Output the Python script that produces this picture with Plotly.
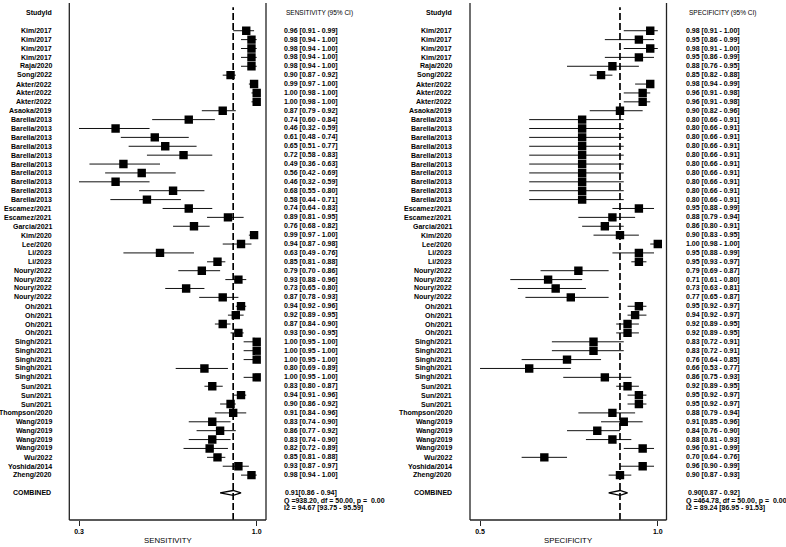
import plotly.graph_objects as go

# ---------------- data ----------------
studies = ["Kim/2017", "Kim/2017", "Kim/2017", "Kim/2017", "Raja/2020", "Song/2022",
           "Akter/2022", "Akter/2022", "Akter/2022", "Asaoka/2019",
           "Barella/2013", "Barella/2013", "Barella/2013", "Barella/2013", "Barella/2013",
           "Barella/2013", "Barella/2013", "Barella/2013", "Barella/2013", "Barella/2013",
           "Escamez/2021", "Escamez/2021", "Garcia/2021", "Kim/2020", "Lee/2020",
           "Li/2023", "Li/2023", "Noury/2022", "Noury/2022", "Noury/2022", "Noury/2022",
           "Oh/2021", "Oh/2021", "Oh/2021", "Oh/2021",
           "Singh/2021", "Singh/2021", "Singh/2021", "Singh/2021", "Singh/2021",
           "Sun/2021", "Sun/2021", "Sun/2021", "Thompson/2020",
           "Wang/2019", "Wang/2019", "Wang/2019", "Wang/2019",
           "Wu/2022", "Yoshida/2014", "Zheng/2020"]

sens = [0.96, 0.98, 0.98, 0.98, 0.98, 0.90, 0.99, 1.00, 1.00, 0.87,
        0.74, 0.46, 0.61, 0.65, 0.72, 0.49, 0.56, 0.46, 0.68, 0.58,
        0.74, 0.89, 0.76, 0.99, 0.94, 0.63, 0.85, 0.79, 0.93, 0.73, 0.87,
        0.94, 0.92, 0.87, 0.93, 1.00, 1.00, 1.00, 0.80, 1.00,
        0.83, 0.94, 0.90, 0.91, 0.83, 0.86, 0.83, 0.82, 0.85, 0.93, 0.98]
sens_lo = [0.91, 0.94, 0.94, 0.94, 0.94, 0.87, 0.97, 0.98, 0.98, 0.79,
           0.60, 0.32, 0.48, 0.51, 0.58, 0.36, 0.42, 0.32, 0.55, 0.44,
           0.64, 0.81, 0.68, 0.97, 0.87, 0.49, 0.81, 0.70, 0.88, 0.65, 0.78,
           0.92, 0.89, 0.84, 0.90, 0.95, 0.95, 0.95, 0.69, 0.95,
           0.80, 0.91, 0.86, 0.84, 0.74, 0.77, 0.74, 0.72, 0.81, 0.87, 0.94]
sens_hi = [0.99, 1.00, 1.00, 1.00, 1.00, 0.92, 1.00, 1.00, 1.00, 0.92,
           0.84, 0.59, 0.74, 0.77, 0.83, 0.63, 0.69, 0.59, 0.80, 0.71,
           0.83, 0.95, 0.82, 1.00, 0.98, 0.76, 0.88, 0.86, 0.96, 0.80, 0.93,
           0.96, 0.95, 0.90, 0.95, 1.00, 1.00, 1.00, 0.89, 1.00,
           0.87, 0.96, 0.92, 0.96, 0.90, 0.92, 0.90, 0.89, 0.88, 0.97, 1.00]

spec = [0.98, 0.95, 0.98, 0.95, 0.88, 0.85, 0.98, 0.96, 0.96, 0.90,
        0.80, 0.80, 0.80, 0.80, 0.80, 0.80, 0.80, 0.80, 0.80, 0.80,
        0.95, 0.88, 0.86, 0.90, 1.00, 0.95, 0.95, 0.79, 0.71, 0.73, 0.77,
        0.95, 0.94, 0.92, 0.92, 0.83, 0.83, 0.76, 0.66, 0.86,
        0.92, 0.95, 0.95, 0.88, 0.91, 0.84, 0.88, 0.96, 0.70, 0.96, 0.90]
spec_lo = [0.91, 0.86, 0.91, 0.86, 0.76, 0.82, 0.94, 0.91, 0.91, 0.82,
           0.66, 0.66, 0.66, 0.66, 0.66, 0.66, 0.66, 0.66, 0.66, 0.66,
           0.88, 0.79, 0.80, 0.83, 0.98, 0.88, 0.93, 0.69, 0.61, 0.63, 0.65,
           0.92, 0.92, 0.89, 0.89, 0.72, 0.72, 0.64, 0.53, 0.75,
           0.89, 0.92, 0.92, 0.79, 0.85, 0.76, 0.81, 0.91, 0.64, 0.90, 0.87]
spec_hi = [1.00, 0.99, 1.00, 0.99, 0.95, 0.88, 0.99, 0.98, 0.98, 0.96,
           0.91, 0.91, 0.91, 0.91, 0.91, 0.91, 0.91, 0.91, 0.91, 0.91,
           0.99, 0.94, 0.91, 0.95, 1.00, 0.99, 0.97, 0.87, 0.80, 0.81, 0.87,
           0.97, 0.97, 0.95, 0.95, 0.91, 0.91, 0.85, 0.77, 0.93,
           0.95, 0.97, 0.97, 0.94, 0.96, 0.90, 0.93, 0.99, 0.76, 0.99, 0.93]

pooled_sens = [0.91, 0.86, 0.94]
pooled_spec = [0.90, 0.87, 0.92]
sens_stats = ["Q =938.20, df = 50.00, p = \u00a00.00", "I2 = 94.67 [93.75 - 95.59]"]
spec_stats = ["Q =464.78, df = 50.00, p = \u00a00.00", "I2 = 89.24 [86.95 - 91.53]"]

# ---------------- layout constants ----------------
W, H = 786, 547
FONT = "Liberation Sans, Arial, sans-serif"
INK = "#000000"
n = len(studies)
rows = list(range(n))
comb_row = n + 1
hdr_row = -2
Y_RANGE = [55.05, -3.12]


def px(x):
    return x / W


panels = [
    dict(xa="x", dom=[69.3, 266.0], rng=[0.2829, 1.0356], est=sens, lo=sens_lo, hi=sens_hi,
         pooled=pooled_sens, stats=sens_stats, label_x=53.7, val_x=281.7,
         head="SENSITIVITY (95% CI)", title="SENSITIVITY"),
    dict(xa="x2", dom=[470.0, 666.5], rng=[0.5035, 1.023], est=spec, lo=spec_lo, hi=spec_hi,
         pooled=pooled_spec, stats=spec_stats, label_x=454.3, val_x=684.0,
         head="SPECIFICITY (95% CI)", title="SPECIFICITY"),
]

fig = go.Figure()
annotations = []
shapes = []

for p in panels:
    xa = p["xa"]
    # CI lines
    lx, ly = [], []
    for i in rows:
        lx += [p["lo"][i], p["hi"][i], None]
        ly += [i, i, None]
    fig.add_trace(go.Scatter(x=lx, y=ly, mode="lines", xaxis=xa, yaxis="y",
                             line=dict(color="#111111", width=1), hoverinfo="skip",
                             showlegend=False))
    # point estimates
    fig.add_trace(go.Scatter(x=p["est"], y=rows, mode="markers", xaxis=xa, yaxis="y",
                             marker=dict(symbol="square", size=8.4, color="black",
                                         line=dict(width=0)),
                             showlegend=False))
    # pooled diamond
    e, l, h = p["pooled"]
    dh = 0.27
    fig.add_trace(go.Scatter(x=[l, e, h, e, l], y=[comb_row, comb_row - dh, comb_row,
                                                    comb_row + dh, comb_row],
                             mode="lines", xaxis=xa, yaxis="y",
                             line=dict(color="black", width=1.3), showlegend=False))
    # pooled reference dashed line
    shapes.append(dict(type="line", xref=xa, yref="paper", x0=e, x1=e, y0=0, y1=0.992,
                       line=dict(color="black", width=1.7, dash="7px,3px")))
    # frame (left, right, bottom)
    dref = xa + " domain"
    for (x0, x1, y0, y1) in [(0, 0, 0, 1), (1, 1, 0, 1), (0, 1, 0, 0)]:
        shapes.append(dict(type="line", xref=dref, yref="paper", x0=x0, x1=x1,
                           y0=y0, y1=y1, line=dict(color="#222222", width=1.3)))

    # study labels & values
    for i in rows:
        annotations.append(dict(xref="paper", yref="y", x=px(p["label_x"]), y=i,
                                text=studies[i], showarrow=False, xanchor="right",
                                yanchor="middle",
                                font=dict(family=FONT, size=7, color=INK, weight="bold")))
        txt = f"{p['est'][i]:.2f} [{p['lo'][i]:.2f} - {p['hi'][i]:.2f}]"
        annotations.append(dict(xref="paper", yref="y", x=px(p["val_x"]), y=i,
                                text=txt, showarrow=False, xanchor="left",
                                yanchor="middle",
                                font=dict(family=FONT, size=7, color=INK, weight="bold")))
    # headers
    annotations.append(dict(xref="paper", yref="y", x=px(p["label_x"]), y=hdr_row,
                            text="StudyId", showarrow=False, xanchor="right",
                            yanchor="middle",
                            font=dict(family=FONT, size=7, color=INK, weight="bold")))
    annotations.append(dict(xref="paper", yref="y", x=px(p["val_x"] + 2.5), y=hdr_row,
                            text=p["head"], showarrow=False, xanchor="left",
                            yanchor="middle",
                            font=dict(family=FONT, size=6.5, color=INK)))
    # combined
    annotations.append(dict(xref="paper", yref="y", x=px(p["label_x"] - 0.5), y=comb_row,
                            text="COMBINED", showarrow=False, xanchor="right",
                            yanchor="middle",
                            font=dict(family=FONT, size=7, color=INK, weight="bold")))
    annotations.append(dict(xref="paper", yref="y", x=px(p["val_x"] + 1.5), y=comb_row,
                            text=f"{e:.2f}[{l:.2f} - {h:.2f}]", showarrow=False,
                            xanchor="left", yanchor="middle",
                            font=dict(family=FONT, size=7, color=INK, weight="bold")))
    for k, s in enumerate(p["stats"]):
        annotations.append(dict(xref="paper", yref="y", x=px(p["val_x"]),
                                y=comb_row + 0.9 + 0.76 * k,
                                text=s, showarrow=False, xanchor="left", yanchor="middle",
                                font=dict(family=FONT, size=7, color=INK, weight="bold")))
    # axis title
    annotations.append(dict(xref="paper", yref="paper", x=px(sum(p["dom"]) / 2),
                            y=-(540.5 - 520) / 517, text=p["title"], showarrow=False,
                            xanchor="center", yanchor="middle",
                            font=dict(family=FONT, size=7.8, color=INK)))

axis_common = dict(showgrid=False, zeroline=False, showline=False, ticks="outside",
                   ticklen=5, tickwidth=1.2, tickcolor="#222222", tickformat=".1f",
                   tickfont=dict(family=FONT, size=7, color=INK, weight="bold"),
                   anchor="y", fixedrange=True, automargin=False)

fig.update_layout(
    template="none",
    width=W, height=H, autosize=False,
    margin=dict(l=0, r=0, t=3, b=27, pad=0),
    paper_bgcolor="white", plot_bgcolor="white",
    font=dict(family=FONT, color=INK),
    showlegend=False,
    xaxis=dict(domain=[px(panels[0]["dom"][0]), px(panels[0]["dom"][1])],
               range=panels[0]["rng"], tickvals=[min(sens_lo), max(sens_hi)], **axis_common),
    xaxis2=dict(domain=[px(panels[1]["dom"][0]), px(panels[1]["dom"][1])],
                range=panels[1]["rng"], tickvals=[min(spec_lo), max(spec_hi)], **axis_common),
    yaxis=dict(range=Y_RANGE, visible=False, fixedrange=True, domain=[0, 1]),
    annotations=annotations,
    shapes=shapes,
)

fig.write_html(
    "out.html",
    config={"displayModeBar": False},
    post_script="document.body.style.margin='0';document.body.style.padding='0';"
                "document.body.style.overflow='hidden';",
)
